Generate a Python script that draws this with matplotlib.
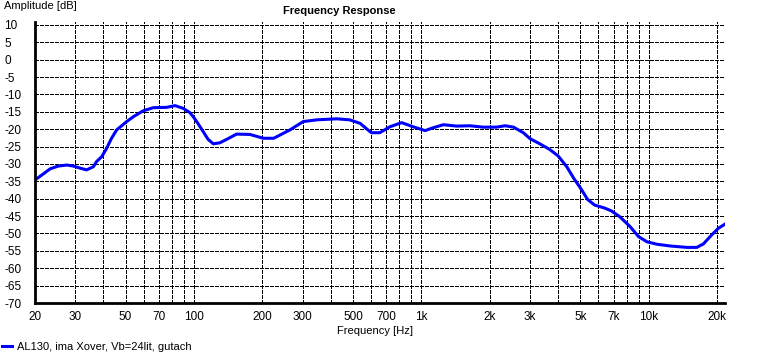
"""
Frequency response of AL130 with crossover, closed box Vb=24 lit.
"""
# Library import ------------------------------------------

import numpy as np
import matplotlib.pyplot as plt
from matplotlib.ticker import FixedLocator, NullLocator

# Data ----------------------------------------------------

freq = [20, 21.4, 23.3, 25.3, 27.6, 29.5, 31.6, 33.7, 36.1, 37.3, 39.3, 41.3,
        43.4, 45.7, 50.6, 54.1, 59.8, 66.2, 75.9, 82.5, 89.7, 95.8, 99.3, 104,
        109.8, 115.3, 121.6, 130, 139.3, 154, 176, 202, 224, 264, 302, 346,
        424, 484, 537, 602, 656, 726, 818, 920, 1038, 1110, 1248, 1428, 1632,
        1866, 2134, 2334, 2538, 2804, 3000, 3314, 3660, 3992, 4354, 4670,
        5010, 5376, 5764, 6400, 6840, 7452, 8260, 9000, 9814, 10860, 12420,
        14700, 16240, 17360, 18880, 20200, 21600]
level = [-34.6, -33.2, -31.4, -30.6, -30.3, -30.6, -31.2, -31.7, -30.8, -29.3,
         -27.9, -25.5, -22.6, -20.2, -17.8, -16.4, -14.7, -13.8, -13.7, -13.2,
         -14.0, -15.2, -16.4, -18.3, -20.7, -22.9, -24.2, -23.9, -22.9, -21.4,
         -21.5, -22.6, -22.6, -20.2, -17.8, -17.3, -17.0, -17.3, -18.3, -21.0,
         -21.0, -19.3, -18.1, -19.3, -20.4, -19.7, -18.7, -19.1, -19.0, -19.4,
         -19.4, -19.0, -19.4, -21.0, -22.7, -24.2, -25.8, -27.7, -30.8, -34.1,
         -37.0, -40.2, -41.8, -42.7, -43.5, -45.2, -48.0, -50.9, -52.4, -53.1,
         -53.6, -54.0, -54.0, -53.0, -50.4, -48.5, -47.3]

xtick_pos = [20, 30, 50, 70, 100, 200, 300, 500, 700, 1000, 2000, 3000,
             5000, 7000, 10000, 20000]
xtick_lab = ['20', '30', '50', '70', '100', '200', '300', '500', '700', '1k',
             '2k', '3k', '5k', '7k', '10k', '20k']
xgrid_pos = [20, 30, 40, 50, 60, 70, 80, 90, 100, 200, 300, 400, 500, 600,
             700, 800, 900, 1000, 2000, 3000, 4000, 5000, 6000, 7000, 8000,
             9000, 10000, 20000]
yticks = list(range(-70, 11, 5))

# Plot ====================================================

plt.rcParams['font.family'] = ['Liberation Sans', 'DejaVu Sans']
plt.rcParams['font.size'] = 8

fig = plt.figure(figsize=(7.75, 3.54), dpi=100)
W, H = 775, 354
ax = fig.add_axes([35 / W, 1 - 303 / H, (725 - 35) / W, (303 - 21.5) / H])

ax.plot(freq, level, color='#0000ff', lw=2.2, solid_joinstyle='round',
        label='AL130, ima Xover, Vb=24lit, gutach')

ax.set_xscale('log')
ax.set_xlim(20, 21600)
ax.set_ylim(-70, 11)

ax.xaxis.set_major_locator(FixedLocator(xtick_pos))
ax.xaxis.set_minor_locator(NullLocator())
ax.set_xticklabels(xtick_lab)
ax.set_yticks(yticks)
ax.set_yticklabels([str(v) for v in yticks], fontsize=8.5)

# grid drawn by hand so unlabelled decades get lines too
for xv in xgrid_pos:
    ax.axvline(xv, color='black', lw=0.72, ls=(0, (3, 2)), zorder=0,
               antialiased=False)
for yv in yticks[1:]:
    ax.axhline(yv, color='black', lw=0.72, ls=(0, (3, 2)), zorder=0,
               antialiased=False)

ax.spines['top'].set_visible(False)
ax.spines['right'].set_visible(False)
ax.spines['left'].set_linewidth(2)
ax.spines['bottom'].set_linewidth(2)

ax.tick_params(axis='x', length=0, pad=6, labelsize=8.5)
ax.tick_params(axis='y', length=0, pad=22)
for lab in ax.get_yticklabels():
    lab.set_horizontalalignment('left')

fig.text(339 / W, 1 - 11 / H, 'Frequency Response', ha='center', va='center',
         fontweight='bold')
fig.text(4 / W, 1 - 6 / H, 'Amplitude [dB]', ha='left', va='center')
fig.text(375 / W, 1 - 331 / H, 'Frequency [Hz]', ha='center', va='center')

fig.legend(loc='center left', bbox_to_anchor=(0 / W, 1 - 347 / H), frameon=False,
           handlelength=0.9, handletextpad=0.4, borderaxespad=0, borderpad=0.2)

fig.savefig('out.png', dpi=100)
